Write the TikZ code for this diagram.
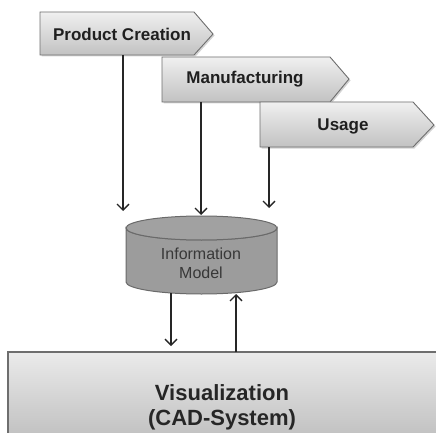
\documentclass[tikz,border=0pt]{standalone}
\usepackage{fontspec}
\setmainfont{Liberation Sans}
\usetikzlibrary{arrows.meta,shadows}
\definecolor{bordergray}{HTML}{6E6E6E}
\definecolor{cylgray}{HTML}{9C9C9C}
\definecolor{cyledge}{HTML}{6A6A6A}
\tikzset{
  chev/.style={draw=bordergray, line width=0.9pt, top color=white!94!black, bottom color=white!76!black,
     drop shadow={shadow xshift=1.5pt, shadow yshift=-1.5pt, opacity=0.35}},
  chevtext/.style={font=\bfseries\fontsize{17}{20}\selectfont, text=black!88},
  arr/.style={line width=1.5pt, black!85, -{Straight Barb[length=6pt,width=12pt,line width=1.4pt]}},
  cylbody/.style={fill=cylgray, draw=cyledge, line width=1pt},
  bigbox/.style={draw=bordergray, line width=1.2pt, top color=white!92!black, bottom color=white!74!black,
     drop shadow={shadow xshift=1.5pt, shadow yshift=-1.5pt, opacity=0.35}},
}
\begin{document}
\begin{tikzpicture}[x=1pt,y=-1pt]
\useasboundingbox (0,0) rectangle (436,433);
% chevrons
\path[chev] (40,12) -- (194,12) -- (213,34) -- (194,55) -- (40,55) -- cycle;
\node[chevtext] (pc) at (122,34) {Product Creation};
\path[chev] (162,57) -- (330,57) -- (349,79) -- (330,102) -- (162,102) -- cycle;
\node[chevtext] (mf) at (245,79) {Manufacturing};
\path[chev] (260,102) -- (413,102) -- (434,125) -- (413,147) -- (260,147) -- cycle;
\node[chevtext] (us) at (343,126) {Usage};
% connector anchors
\coordinate (pcb) at (123,55);
\coordinate (pct) at (123,211);
\coordinate (mfb) at (201,102);
\coordinate (mft) at (201,215);
\coordinate (usb) at (269,147);
\coordinate (ust) at (269,208);
% cylinder
\path[cylbody] (126,228) -- (126,282) arc[start angle=180, end angle=0, x radius=75.5, y radius=12] -- (277,228) arc[start angle=0, end angle=180, x radius=75.5, y radius=12] -- cycle;
\draw[cyledge, line width=1pt, fill=cylgray!95!white] (201.5,228) ellipse[x radius=75.5, y radius=12];
\node[align=center, font=\fontsize{16}{19}\selectfont, text=black!78] (im) at (201,263) {Information\\Model};
\coordinate (imd) at (171,293);
\coordinate (imu) at (236,294);
% big box
\path[bigbox] (8,352) rectangle (445,445);
\node[align=center, font=\bfseries\fontsize{22}{25}\selectfont, text=black!85] (vis) at (222,407) {Visualization\\(CAD-System)};
\coordinate (visd) at (171,346);
\coordinate (visu) at (236,352);
% arrows
\draw[arr] (pcb) -- (pct);
\draw[arr] (mfb) -- (mft);
\draw[arr] (usb) -- (ust);
\draw[arr] (imd) -- (visd);
\draw[arr] (visu) -- (imu);
\end{tikzpicture}
\end{document}
